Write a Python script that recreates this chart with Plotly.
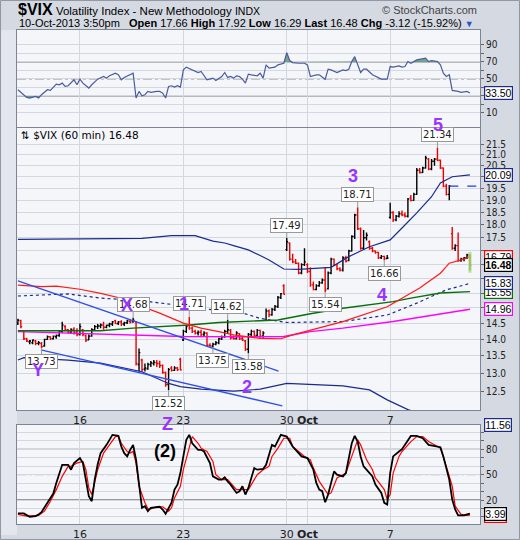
import numpy as np
import plotly.graph_objects as go

# ---------------- DATA ----------------
# hourly bars, 7 per trading day, 11-Sep-2013 .. 10-Oct-2013 (bar index 0..153)
bar_open = [14.50,14.58,14.25,14.02,13.93,13.90,13.95, 13.88,13.88,13.80,14.00,14.08,14.02,14.08,
            14.12,14.25,14.40,14.30,14.22,14.32,14.22, 14.15,14.30,14.12,13.98,14.10,14.30,14.40,
            14.42,14.45,14.38,14.44,14.48,14.58,14.50, 14.55,14.48,14.52,14.56,14.55,14.55,13.25,
            13.38,13.12,13.12,13.25,13.28,13.30,13.28, 13.22,13.02,12.68,13.15,13.08,13.15,13.40,
            13.98,14.25,14.45,14.35,14.25,14.20,14.22, 14.15,14.20,13.82,13.80,13.85,13.90,14.02,
            14.08,14.25,14.28,14.05,14.02,14.18,14.02, 13.95,13.70,14.15,14.25,14.12,14.28,14.10,
            14.60,14.90,14.78,14.95,15.05,15.35,15.75, 17.05,17.30,16.70,16.60,16.55,16.20,16.50,
            16.50,16.25,15.78,15.62,15.75,15.85,15.95, 15.65,16.20,16.70,16.50,16.35,16.30,16.75,
            16.65,17.00,17.55,18.40,17.85,17.10,17.50, 17.35,17.10,17.00,16.95,16.75,16.80,16.72,
            18.30,18.50,18.20,18.35,18.45,18.40,18.35, 19.10,19.00,19.25,20.30,20.20,20.40,20.80,
            20.35,20.70,20.80,20.75,20.40,19.60,19.25, 17.66,17.10,17.20,16.65,16.70,16.75,16.85]
bar_high = [14.65,14.62,14.28,14.05,13.98,14.00,13.98, 13.95,13.92,14.02,14.12,14.10,14.12,14.15,
            14.28,14.55,14.45,14.32,14.35,14.38,14.35, 14.50,14.32,14.15,14.15,14.35,14.45,14.48,
            14.50,14.55,14.46,14.52,14.58,14.62,14.58, 14.60,14.55,14.62,14.62,14.68,14.58,13.72,
            13.42,13.28,13.30,13.35,13.38,13.38,13.36, 13.25,13.05,13.15,13.20,13.20,13.18,13.45,
            14.30,14.45,14.71,14.40,14.30,14.28,14.30, 14.25,14.22,13.88,13.90,13.95,14.05,14.12,
            14.30,14.62,14.32,14.12,14.25,14.20,14.08, 13.98,14.20,14.30,14.28,14.32,14.30,14.25,
            14.98,14.95,15.00,15.10,15.40,15.50,15.80, 17.49,17.32,16.90,16.70,16.58,16.55,17.10,
            16.55,16.40,15.90,15.80,15.92,16.00,16.40, 16.25,16.75,16.72,16.52,16.40,16.80,16.82,
            17.05,17.60,18.45,18.71,17.90,17.80,17.70, 17.40,17.15,17.02,16.97,16.85,16.82,16.85,
            18.90,18.55,18.40,18.55,18.58,18.50,19.10, 19.22,19.32,20.40,20.40,20.45,20.95,20.85,
            20.80,20.85,21.34,20.78,20.42,19.70,19.65, 17.92,17.25,17.70,16.75,16.78,16.90,16.88]
bar_low = [14.45,14.35,13.98,13.92,13.85,13.85,13.82, 13.82,13.73,13.78,13.98,13.98,14.00,14.02,
           14.08,14.20,14.25,14.18,14.18,14.15,14.10, 14.12,14.10,13.92,13.98,14.08,14.28,14.32,
           14.35,14.30,14.35,14.38,14.42,14.48,14.45, 14.42,14.42,14.48,14.50,14.52,13.22,13.05,
           13.05,13.05,13.10,13.18,13.22,13.18,13.15, 12.98,12.62,12.52,13.05,13.06,13.06,13.08,
           13.95,14.20,14.30,14.20,14.15,14.12,14.10, 14.10,13.80,13.78,13.75,13.82,13.85,13.98,
           14.05,14.20,14.00,14.00,14.00,13.98,13.95, 13.65,13.58,14.10,14.10,14.10,14.05,14.05,
           14.58,14.70,14.75,14.90,15.00,15.30,15.45, 17.00,16.65,16.55,16.52,16.15,16.15,16.45,
           16.20,15.72,15.60,15.60,15.72,15.82,15.54, 15.62,16.15,16.45,16.30,16.25,16.25,16.58,
           16.62,16.98,17.45,17.80,17.05,17.05,17.40, 17.05,16.95,16.90,16.70,16.70,16.66,16.70,
           18.25,18.12,18.15,18.30,18.35,18.30,18.30, 18.95,18.98,19.22,20.15,20.18,20.38,20.30,
           20.30,20.50,20.70,20.35,19.55,19.20,19.00, 17.05,17.00,16.60,16.60,16.62,16.70,16.29]
bar_close = [14.60,14.40,14.02,13.95,13.95,13.98,13.88, 13.90,13.78,14.00,14.08,14.02,14.10,14.12,
             14.25,14.45,14.30,14.22,14.30,14.20,14.15, 14.40,14.15,13.98,14.10,14.30,14.40,14.42,
             14.45,14.38,14.44,14.48,14.55,14.50,14.55, 14.48,14.52,14.58,14.55,14.60,13.28,13.60,
             13.10,13.15,13.25,13.30,13.32,13.28,13.22, 13.02,12.68,13.10,13.08,13.15,13.10,13.09,
             14.25,14.40,14.35,14.25,14.20,14.22,14.15, 14.20,13.82,13.80,13.85,13.90,14.02,14.08,
             14.25,14.30,14.05,14.02,14.20,14.02,13.98, 13.70,14.15,14.25,14.12,14.28,14.10,14.20,
             14.90,14.78,14.95,15.05,15.35,15.48,15.46, 17.35,16.70,16.60,16.55,16.20,16.50,16.60,
             16.25,15.78,15.62,15.75,15.85,15.95,15.60, 16.20,16.70,16.50,16.35,16.30,16.75,16.62,
             17.00,17.55,18.40,17.85,17.10,17.50,17.60, 17.10,17.00,16.95,16.75,16.80,16.72,16.74,
             18.50,18.20,18.35,18.45,18.40,18.35,19.05, 19.00,19.25,20.30,20.20,20.40,20.85,20.35,
             20.70,20.80,20.75,20.40,19.60,19.25,19.60, 17.10,17.20,16.65,16.70,16.75,16.85,16.48]

date_tick_idx = [21, 56, 91, 98, 126]
date_tick_text = ["16", "23", "30", "<b>Oct</b>", "7"]

# overlays (bar index, value)
bb_upper_x = [0, 8, 42, 52, 60, 66, 70, 73, 78, 82, 85, 90, 95, 106, 112, 119, 126, 130, 135, 140, 143, 147, 153]
bb_upper_v = [17.44, 17.45, 17.48, 17.58, 17.58, 17.37, 17.30, 17.20, 17.04, 16.83, 16.67, 16.34, 16.33, 16.40,
              16.79, 17.16, 17.42, 17.88, 18.48, 19.15, 19.74, 20.01, 20.09]
bb_mid_x = [0, 17, 28, 42, 56, 66, 76, 82, 91, 110, 125, 135, 145, 153]
bb_mid_v = [15.40, 15.47, 15.33, 15.24, 15.07, 14.94, 14.84, 14.66, 14.53, 14.56, 14.77, 15.16, 15.61, 15.83]
bb_lower_x = [0, 2, 17, 28, 42, 51, 55, 62, 73, 80, 82, 91, 97, 110, 119, 125, 132, 140, 153]
bb_lower_v = [13.38, 13.45, 13.38, 13.29, 13.04, 12.71, 12.62, 12.55, 12.50, 12.53, 12.55, 12.71, 12.69, 12.64,
              12.53, 12.26, 12.00, 11.80, 11.56]
red_ma_x = [0, 8, 13, 21, 28, 36, 39, 48, 56, 62, 68, 73, 82, 89, 93, 99, 110, 125, 130, 136, 143, 146, 151, 153]
red_ma_v = [15.77, 15.72, 15.74, 15.63, 15.49, 15.30, 15.16, 14.83, 14.51, 14.35, 14.24, 14.14, 14.03, 14.02,
            14.14, 14.29, 14.56, 15.04, 15.33, 15.67, 16.19, 16.55, 16.70, 16.79]
green_ma_x = [0, 28, 39, 51, 58, 68, 82, 88, 99, 110, 127, 133, 143, 153]
green_ma_v = [14.27, 14.27, 14.35, 14.40, 14.45, 14.53, 14.58, 14.61, 14.81, 14.99, 15.21, 15.33, 15.50, 15.55]
magenta_ma_x = [0, 28, 45, 56, 82, 90, 99, 110, 127, 138, 153]
magenta_ma_v = [14.24, 14.17, 14.13, 14.09, 14.08, 14.09, 14.24, 14.35, 14.56, 14.72, 14.96]

rsi_x = [0,2,3,4,6,7,8,10,11,13,14,15,16,17,19,20,21,22,24,25,27,29,30,31,32,33,34,35,36,38,39,40,41,42,43,44,45,47,48,
         49,50,51,52,53,54,55,56,57,59,61,62,64,66,67,69,70,71,72,73,74,75,76,77,78,79,81,82,83,84,85,87,88,90,91,92,
         93,95,97,98,99,101,102,104,105,106,108,110,111,112,113,114,116,117,118,120,122,123,125,126,127,129,130,131,
         132,133,135,137,138,139,140,142,143,144,145,146,147,149,150,152,153]
rsi_v = [37.3,31.5,28.3,27.6,29.5,27.6,31.5,37.3,36.5,44.0,43.2,45.1,41.2,42.0,49.0,43.2,49.8,45.1,39.3,43.2,49.8,52.9,
         51.0,53.7,54.9,56.8,54.9,49.0,51.8,54.9,56.8,27.6,35.4,30.3,31.5,35.4,34.2,35.4,35.4,33.4,27.6,41.2,42.0,40.4,
         42.0,40.4,60.7,63.9,60.7,57.6,58.8,49.0,51.0,48.2,52.9,57.6,51.8,52.9,51.0,53.7,52.9,49.8,45.1,55.7,54.9,53.7,
         56.8,51.0,66.6,62.7,63.9,66.6,68.5,81.0,71.7,69.3,68.5,68.5,66.6,52.9,54.9,54.9,49.8,61.5,60.7,57.6,60.7,59.9,
         61.5,70.5,76.3,57.6,61.5,61.5,54.9,51.0,49.8,49.8,64.6,63.9,65.4,63.9,64.6,70.5,68.5,72.4,73.2,74.4,70.5,71.7,
         70.5,66.6,56.8,52.9,54.9,36.5,35.4,34.2,35.4,33.5]

stoch_k_x = [0,2,4,6,7,8,10,12,13,15,17,18,19,21,22,23,24,25,26,27,28,30,31,32,34,35,36,37,38,39,40,41,42,43,44,45,47,
             48,49,50,52,53,54,55,56,57,58,59,61,62,63,65,66,68,69,70,71,72,74,75,76,77,78,79,80,81,83,84,85,86,87,88,
             89,91,93,95,96,98,100,101,102,103,104,105,106,107,108,110,111,112,113,114,115,116,117,118,120,121,123,124,
             125,126,127,129,130,131,133,135,137,139,141,143,144,146,147,148,149,151,152,153]
stoch_k_v = [4.1,4.1,0.0,1.0,2.9,5.7,16.7,27.6,40.2,61.7,61.7,55.9,63.7,69.6,63.7,45.0,24.5,18.6,44.1,62.0,75.5,85.3,
             91.2,97.1,95.9,83.3,75.5,71.6,79.4,85.3,67.6,36.3,10.8,12.7,6.8,10.8,12.0,12.0,8.8,3.7,16.7,32.3,38.2,51.9,
             71.6,91.2,97.1,87.2,79.4,79.4,77.4,63.7,48.0,44.1,44.1,46.8,42.1,38.2,28.4,30.4,36.3,26.5,34.3,46.1,57.8,
             55.9,56.7,61.7,72.3,85.3,83.3,91.2,97.1,95.1,83.3,75.5,71.6,69.6,55.9,40.2,32.3,30.4,17.4,26.5,40.2,53.9,
             50.0,48.0,51.9,71.6,87.2,95.9,89.2,71.6,59.8,55.9,48.0,38.2,28.4,16.7,14.7,51.9,71.6,77.4,80.2,85.3,95.9,
             95.9,93.1,85.3,84.1,82.5,71.6,44.1,20.6,8.8,1.7,1.7,2.9,3.99]
stoch_d_x = [0,3,7,9,11,13,15,17,18,20,22,23,24,25,27,29,31,33,34,35,37,38,39,40,41,43,44,45,47,49,51,52,53,55,56,58,
             59,61,62,64,66,67,69,71,72,74,76,78,79,81,83,85,86,88,90,92,93,95,97,99,100,102,104,105,106,108,110,111,
             113,115,116,118,120,121,124,125,126,127,129,130,133,135,137,139,142,143,145,147,148,150,152,153]
stoch_d_v = [2.9,1.0,1.7,6.8,18.6,32.3,48.0,59.8,59.8,63.7,65.7,55.9,34.3,26.5,55.9,75.5,85.3,95.1,95.9,87.2,77.4,75.5,
             77.4,63.7,36.3,16.7,9.6,9.6,12.0,12.0,6.8,10.8,22.5,36.3,55.9,83.3,95.1,87.2,81.4,77.4,65.7,50.0,44.1,44.1,
             40.2,32.3,32.3,32.3,38.2,50.0,55.9,59.8,71.6,81.4,93.1,93.1,83.3,77.4,71.6,67.6,57.8,42.1,32.3,26.5,28.4,
             46.1,50.0,51.9,71.6,91.2,85.3,67.6,55.9,46.1,32.3,20.6,26.5,51.9,71.6,77.4,89.2,95.1,95.1,89.2,83.3,81.4,
             59.8,36.3,12.7,2.9,1.7,2.1]

# hand-drawn trend lines: (bar index, price) endpoints
trend_upper = ([0, 88.2], [15.92, 13.06])
trend_lower = ([7.8, 89.5], [13.68, 12.10])

# Elliott wave labels: (text, bar index, price)
wave_labels = [("Y", 6.8, 13.09), ("X", 36.9, 15.11), ("1", 56.1, 15.14), ("2", 77.4, 12.60),
               ("3", 113.5, 20.06), ("4", 123.3, 15.42)]

# swing high/low callouts: (bar index, 'H' or 'L')
callouts = [(8, "L"), (39, "H"), (51, "L"), (58, "H"), (66, "L"), (71, "H"), (78, "L"),
            (91, "H"), (104, "L"), (115, "H"), (124, "L"), (142, "H")]

prev_close = 19.60

# ---------------- LAYOUT HELPERS ----------------
W, H = 520, 540
def px_x(x):
    return x / W
def px_y(y):
    return 1 - y / H

XL, XR = px_x(17), px_x(480)
RSI_DOM = [px_y(127), px_y(30)]
MAIN_DOM = [px_y(410), px_y(128)]
STO_DOM = [px_y(524), px_y(425)]
MAIN_RANGE = [np.log10(11.99), np.log10(22.27)]
XRANGE = [-0.3, 156.4]

TICKFONT = dict(family="Liberation Sans Narrow, DejaVu Sans Condensed, Arial", size=10, color="#222")
GRID = "#d3d7df"
FRAME = "#7d8494"

n = len(bar_close)
idx = np.arange(n)
up = [True] + [bar_close[k] >= bar_close[k - 1] for k in range(1, n)]

fig = go.Figure()

# ---------- RSI panel ----------
def clip_series(xs, vs, thr, above):
    ox, oy = [], []
    for k in range(len(xs)):
        if k > 0:
            a, b = vs[k - 1] - thr, vs[k] - thr
            if a * b < 0:
                t = a / (a - b)
                ox.append(xs[k - 1] + t * (xs[k] - xs[k - 1]))
                oy.append(thr)
        ox.append(xs[k])
        oy.append(max(vs[k], thr) if above else min(vs[k], thr))
    return ox, oy

for thr, above in [(70, True), (30, False)]:
    cx, cy = clip_series(rsi_x, rsi_v, thr, above)
    fig.add_trace(go.Scatter(x=cx, y=[thr] * len(cx), mode="lines", line=dict(width=0),
                             xaxis="x", yaxis="y", hoverinfo="skip", showlegend=False))
    fig.add_trace(go.Scatter(x=cx, y=cy, mode="lines", line=dict(width=0), fill="tonexty",
                             fillcolor="rgba(88,146,118,0.8)", xaxis="x", yaxis="y",
                             hoverinfo="skip", showlegend=False))
fig.add_trace(go.Scatter(x=rsi_x, y=rsi_v, mode="lines", line=dict(color="#4d5b9e", width=1.2),
                         xaxis="x", yaxis="y", showlegend=False))

# ---------- main price panel ----------
def add_line(xs, vs, color, width=1.2, dash="solid"):
    fig.add_trace(go.Scatter(x=xs, y=vs, mode="lines", line=dict(color=color, width=width, dash=dash),
                             xaxis="x2", yaxis="y2", showlegend=False, hoverinfo="skip"))

add_line(bb_upper_x, bb_upper_v, "#1b2a8c", 1.2)
add_line(bb_lower_x, bb_lower_v, "#1b2a8c", 1.2)
add_line(bb_mid_x, bb_mid_v, "#1b2a8c", 1.2, "dot")
add_line(magenta_ma_x, magenta_ma_v, "#ff00ff", 1.4)
add_line(green_ma_x, green_ma_v, "#0a6e0a", 1.4)
add_line(red_ma_x, red_ma_v, "#ff1a1a", 1.2)
add_line(trend_upper[0], trend_upper[1], "#2f4fe8", 1.3)
add_line(trend_lower[0], trend_lower[1], "#2f4fe8", 1.3)
# previous close dashed line on last day
add_line([146, 156.4], [prev_close, prev_close], "#1a3cf0", 1.2, "dash")

# current-bar highlight
lb = n - 1
fig.add_trace(go.Scatter(x=[lb - 0.55, lb + 0.55, lb + 0.55, lb - 0.55, lb - 0.55],
                         y=[bar_low[lb] * 0.995, bar_low[lb] * 0.995, bar_high[lb] * 1.005,
                            bar_high[lb] * 1.005, bar_low[lb] * 0.995],
                         mode="lines", line=dict(width=0), fill="toself", fillcolor="rgba(150,230,120,0.75)",
                         xaxis="x2", yaxis="y2", showlegend=False, hoverinfo="skip"))

for sel, col in [(True, "#000000"), (False, "#ee0000")]:
    ii = [k for k in range(n) if up[k] == sel]
    fig.add_trace(go.Ohlc(x=[int(idx[k]) for k in ii],
                          open=[bar_open[k] for k in ii], high=[bar_high[k] for k in ii],
                          low=[bar_low[k] for k in ii], close=[bar_close[k] for k in ii],
                          increasing=dict(line=dict(color=col, width=1.4)),
                          decreasing=dict(line=dict(color=col, width=1.4)),
                          tickwidth=0.45, xaxis="x2", yaxis="y2", showlegend=False, hoverinfo="skip"))

# ---------- stochastic panel ----------
fig.add_trace(go.Scatter(x=stoch_d_x, y=stoch_d_v, mode="lines", line=dict(color="#ff0000", width=1.2),
                         xaxis="x3", yaxis="y3", showlegend=False))
fig.add_trace(go.Scatter(x=stoch_k_x, y=stoch_k_v, mode="lines", line=dict(color="#000000", width=1.8),
                         xaxis="x3", yaxis="y3", showlegend=False))

# ---------- axes ----------
xcommon = dict(range=XRANGE, domain=[XL, XR], tickvals=date_tick_idx, ticktext=date_tick_text,
               showgrid=True, gridcolor=GRID, gridwidth=1, zeroline=False, showline=True, mirror=True,
               linecolor=FRAME, linewidth=1, tickfont=dict(family="DejaVu Sans", size=11, color="#222"),
               ticks="", fixedrange=True, rangeslider=dict(visible=False), automargin=False)
ycommon = dict(side="right", showgrid=True, gridcolor=GRID, zeroline=False, showline=True, mirror=True,
               linecolor=FRAME, linewidth=1, ticks="outside", ticklen=3, tickcolor="#666",
               tickfont=TICKFONT, fixedrange=True, automargin=False)

# tick labels hidden where the value tags sit (as in the reference)
tag_values = [bb_upper_v[-1], red_ma_v[-1], bar_close[-1], bb_mid_v[-1], green_ma_v[-1], magenta_ma_v[-1]]
main_ticks = [12.5 + 0.5 * k for k in range(19)]
def near_tag(v):
    return any(abs(np.log10(v) - np.log10(t)) * 1049 < 7 for t in tag_values)
main_text = ["" if near_tag(v) else "%.1f" % v for v in main_ticks]

fig.update_layout(
    xaxis=dict(xcommon, anchor="y", showticklabels=False),
    xaxis2=dict(xcommon, anchor="y2", showticklabels=True, matches="x"),
    xaxis3=dict(xcommon, anchor="y3", showticklabels=True, matches="x"),
    yaxis=dict(ycommon, anchor="x", domain=RSI_DOM, range=[-6.5, 107.6],
               tickvals=list(range(10, 100, 10)),
               ticktext=["" if v in (20, 40, 60, 80, 30) else str(v) for v in range(10, 100, 10)]),
    yaxis2=dict(ycommon, anchor="x2", domain=MAIN_DOM, type="log", range=MAIN_RANGE,
                tickvals=main_ticks, ticktext=main_text),
    yaxis3=dict(ycommon, anchor="x3", domain=STO_DOM, range=[-8.4, 108.8],
                tickvals=list(range(0, 110, 10)),
                ticktext=[str(v) if v in (20, 50, 80) else "" for v in range(0, 110, 10)]),
)

shapes = []
for yref, lines in [("y", (70, 30)), ("y3", (80, 20))]:
    for v in lines:
        shapes.append(dict(type="line", xref="paper", x0=XL, x1=XR, yref=yref, y0=v, y1=v,
                           line=dict(color="#7a7a7a", width=1.3), layer="below"))
    shapes.append(dict(type="line", xref="paper", x0=XL, x1=XR, yref=yref, y0=50, y1=50,
                       line=dict(color="#8a8a8a", width=1, dash="dashdot"), layer="below"))
# left strip and outer frame
shapes.append(dict(type="rect", xref="paper", yref="paper", x0=0, x1=XL, y0=px_y(535), y1=px_y(30),
                   fillcolor="#e3e6ec", line=dict(width=0), layer="below"))
shapes.append(dict(type="rect", xref="paper", yref="paper", x0=0.001, x1=0.999, y0=0.001, y1=0.999,
                   line=dict(color="#9096a3", width=1), layer="below"))

# ---------- annotations ----------
ann = []
HDR = "Liberation Sans, Arial"
ann.append(dict(x=px_x(16), y=px_y(10), xref="paper", yref="paper", xanchor="left", yanchor="middle",
                showarrow=False, font=dict(family=HDR, size=11.5, color="#000"),
                text="<b><span style='font-size:16px'>$VIX</span></b> Volatility Index - New Methodology "
                     "<span style='font-size:10.5px'>INDX</span>"))
ann.append(dict(x=px_x(479), y=px_y(10), xref="paper", yref="paper", xanchor="right", yanchor="middle",
                showarrow=False, font=dict(family=HDR, size=11, color="#444"), text="© StockCharts.com"))
ann.append(dict(x=px_x(17), y=px_y(23), xref="paper", yref="paper", xanchor="left", yanchor="middle",
                showarrow=False, font=dict(family=HDR, size=11, color="#000"), text="10-Oct-2013 3:50pm"))
chg = bar_close[-1] - prev_close
ann.append(dict(x=px_x(127), y=px_y(23), xref="paper", yref="paper", xanchor="left", yanchor="middle",
                showarrow=False, font=dict(family=HDR, size=11, color="#000"),
                text="<b>Open</b> %.2f <b>High</b> %.2f <b>Low</b> %.2f <b>Last</b> %.2f <b>Chg</b> %.2f (%.2f%%) "
                     "<span style='color:#2a50c8;font-size:9px'>▼</span>"
                     % (17.66, 17.92, 16.29, bar_close[-1], chg, chg / prev_close * 100)))
ann.append(dict(x=px_x(19), y=px_y(135), xref="paper", yref="paper", xanchor="left", yanchor="middle",
                showarrow=False, font=dict(family="DejaVu Sans", size=10.5, color="#000"),
                text="⇅ $VIX (60 min) %.2f" % bar_close[-1]))

# callouts
for k, kind in callouts:
    val = bar_high[k] if kind == "H" else bar_low[k]
    ann.append(dict(x=k, y=np.log10(val), xref="x2", yref="y2", text="%.2f" % val, showarrow=True,
                    arrowhead=0, arrowwidth=1, arrowcolor="#999", ax=0, ay=-13 if kind == "H" else 13,
                    bgcolor="#ffffff", bordercolor="#999", borderwidth=1, borderpad=1,
                    font=dict(family="DejaVu Sans", size=10, color="#222")))

# Elliott wave labels
WAVE = dict(family="Liberation Sans, Arial", size=18, color="#9933ff")
for t, xi, pv in wave_labels:
    ann.append(dict(x=xi, y=np.log10(pv), xref="x2", yref="y2", text="<b>%s</b>" % t, showarrow=False,
                    xanchor="center", yanchor="middle", font=WAVE))
ann.append(dict(x=142.2, y=px_y(125), xref="x2", yref="paper", text="<b>5</b>", showarrow=False,
                xanchor="center", yanchor="middle", font=WAVE))
ann.append(dict(x=50.7, y=px_y(424), xref="x2", yref="paper", text="<b>Z</b>", showarrow=False,
                xanchor="center", yanchor="middle", font=WAVE))
ann.append(dict(x=49.7, y=78, xref="x3", yref="y3", text="<b>(2)</b>", showarrow=False,
                xanchor="center", yanchor="middle",
                font=dict(family="Liberation Sans, Arial", size=18, color="#000")))

# right-hand value tags
def tag(y, yref, text, color, bold=False):
    ann.append(dict(x=px_x(484), y=y, xref="paper", yref=yref, xanchor="left", yanchor="middle",
                    text=("<b>%s</b>" % text) if bold else text, showarrow=False, bgcolor="#ffffff",
                    bordercolor=color, borderwidth=1.2, borderpad=0,
                    font=dict(family="Liberation Sans, Arial", size=10.5, color="#000")))

tag(np.log10(bb_upper_v[-1]), "y2", "%.2f" % bb_upper_v[-1], "#1b2a8c")
tag(np.log10(green_ma_v[-1]), "y2", "%.2f" % green_ma_v[-1], "#0a6e0a")
tag(np.log10(bb_mid_v[-1]), "y2", "%.2f" % bb_mid_v[-1], "#1b2a8c")
tag(np.log10(red_ma_v[-1]), "y2", "%.2f" % red_ma_v[-1], "#ff0000")
tag(np.log10(bar_close[-1]), "y2", "%.2f" % bar_close[-1], "#000000", bold=True)
tag(np.log10(magenta_ma_v[-1]), "y2", "%.2f" % magenta_ma_v[-1], "#ff00ff")
tag(px_y(425), "paper", "%.2f" % bb_lower_v[-1], "#1b2a8c")
tag(rsi_v[-1], "y", "%.2f" % rsi_v[-1], "#1b2a8c")
tag(stoch_d_v[-1] - 1.5, "y3", "%.2f" % stoch_d_v[-1], "#ff0000")
tag(stoch_k_v[-1], "y3", "%.2f" % stoch_k_v[-1], "#000000")

fig.update_layout(width=W, height=H, margin=dict(l=0, r=0, t=0, b=0, pad=0), autosize=False,
                  paper_bgcolor="#d5d9e2", plot_bgcolor="#f4f6fa", showlegend=False,
                  shapes=shapes, annotations=ann, hovermode=False)

fig.write_html("out.html", config={"displayModeBar": False, "staticPlot": True},
               post_script="document.body.style.margin='0px';document.body.style.padding='0px';")
